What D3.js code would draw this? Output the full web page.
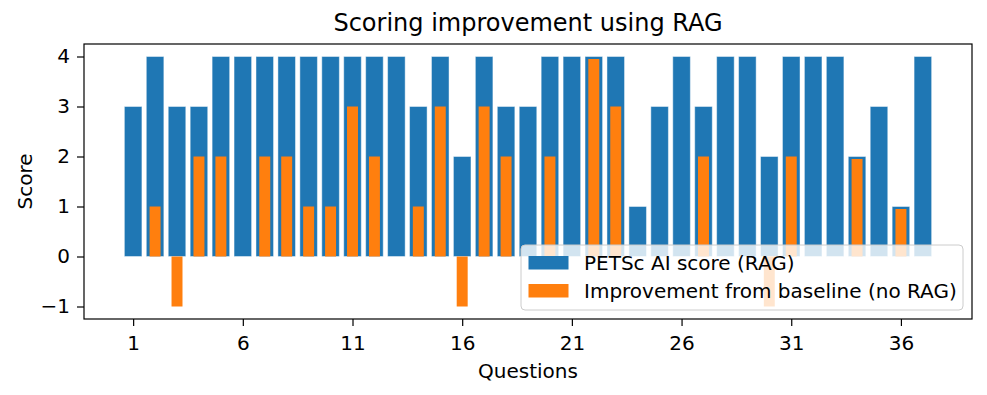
<!DOCTYPE html>
<html>
<head>
<meta charset="utf-8">
<script src="https://cdn.jsdelivr.net/npm/d3@7"></script>
<style>
  body { margin: 0; background: #fff; }
  svg { font-family: "DejaVu Sans", sans-serif; }
</style>
</head>
<body>
<svg id="chart"></svg>
<script>
// data
const questions = d3.range(1, 38);
const ragScore = [3, 4, 3, 3, 4, 4, 4, 4, 4, 4, 4, 4, 4, 3, 4, 2, 4, 3, 3, 4, 4, 4, 4, 1, 3, 4, 3, 4, 4, 2, 4, 4, 4, 2, 3, 1, 4];
const improvement = [0, 1, -1, 2, 2, 0, 2, 2, 1, 1, 3, 2, 0, 1, 3, -1, 3, 2, 0, 2, 0, 3.95, 3, 0, 0, 0, 2, 0, 0, -1, 2, 0, 0, 1.95, 0, 0.95, 0];
const xTicks = [1, 6, 11, 16, 21, 26, 31, 36];
const yTicks = [-1, 0, 1, 2, 3, 4];
const seriesNames = ["PETSc AI score (RAG)", "Improvement from baseline (no RAG)"];

const width = 987, height = 395;
const margin = { top: 44, right: 15, bottom: 76, left: 84 };
const blue = "#1f77b4", orange = "#ff7f0e";
const fs = 20;

const svg = d3.select("#chart")
    .attr("width", width)
    .attr("height", height);

const x = d3.scaleLinear()
    .domain([-1.24, 39.24])
    .range([margin.left, width - margin.right]);

const y = d3.scaleLinear()
    .domain([-1.25, 4.25])
    .range([height - margin.bottom, margin.top]);

const unit = x(1) - x(0);

// blue bars
svg.append("g")
    .selectAll("rect")
    .data(questions)
    .join("rect")
    .attr("x", d => x(d - 0.4))
    .attr("width", unit * 0.8)
    .attr("y", (d, i) => y(Math.max(0, ragScore[i])))
    .attr("height", (d, i) => Math.abs(y(ragScore[i]) - y(0)))
    .attr("fill", blue)
    .attr("stroke", "rgba(255,255,255,0.45)")
    .attr("stroke-width", 1);

// orange bars
svg.append("g")
    .selectAll("rect")
    .data(questions)
    .join("rect")
    .attr("x", d => x(d - 0.25))
    .attr("width", unit * 0.5)
    .attr("y", (d, i) => y(Math.max(0, improvement[i])))
    .attr("height", (d, i) => Math.abs(y(improvement[i]) - y(0)))
    .attr("fill", orange);

// axes
const xAxis = svg.append("g")
    .attr("transform", `translate(0,${height - margin.bottom})`)
    .call(d3.axisBottom(x).tickValues(xTicks).tickSizeOuter(0).tickSize(7).tickPadding(7));

const yAxis = svg.append("g")
    .attr("transform", `translate(${margin.left},0)`)
    .call(d3.axisLeft(y).tickValues(yTicks).tickSizeOuter(0).tickSize(7).tickPadding(7)
        .tickFormat(d => d < 0 ? "\u2212" + Math.abs(d) : d));

[xAxis, yAxis].forEach(a => {
    a.select(".domain").remove();
    a.selectAll("line").attr("stroke", "#000").attr("stroke-width", 1.2);
    a.selectAll("text").attr("font-size", fs).attr("fill", "#000")
        .attr("font-family", "DejaVu Sans, sans-serif");
});
xAxis.selectAll("text").attr("dy", "0.71em").attr("y", 16.5);

// frame
svg.append("rect")
    .attr("x", margin.left)
    .attr("y", margin.top)
    .attr("width", width - margin.right - margin.left)
    .attr("height", height - margin.bottom - margin.top)
    .attr("fill", "none")
    .attr("stroke", "#000")
    .attr("stroke-width", 1.2);

// titles
svg.append("text")
    .attr("x", (margin.left + width - margin.right) / 2)
    .attr("y", 31)
    .attr("text-anchor", "middle")
    .attr("font-size", 24)
    .text("Scoring improvement using RAG");

svg.append("text")
    .attr("x", (margin.left + width - margin.right) / 2)
    .attr("y", 378)
    .attr("text-anchor", "middle")
    .attr("font-size", fs)
    .text("Questions");

svg.append("text")
    .attr("transform", `translate(32,${(margin.top + height - margin.bottom) / 2}) rotate(-90)`)
    .attr("text-anchor", "middle")
    .attr("font-size", fs)
    .text("Score");

// legend
const legend = svg.append("g").attr("transform", "translate(521,245)");
legend.append("rect")
    .attr("width", 442)
    .attr("height", 65)
    .attr("rx", 4)
    .attr("fill", "rgba(255,255,255,0.8)")
    .attr("stroke", "#cccccc")
    .attr("stroke-width", 1);

[blue, orange].forEach((c, i) => {
    legend.append("rect")
        .attr("x", 7.5)
        .attr("y", 11 + i * 28)
        .attr("width", 40)
        .attr("height", 13.5)
        .attr("fill", c);
    legend.append("text")
        .attr("x", 63)
        .attr("y", 18 + i * 28)
        .attr("dy", "0.35em")
        .attr("font-size", fs)
        .text(seriesNames[i]);
});
</script>
</body>
</html>
